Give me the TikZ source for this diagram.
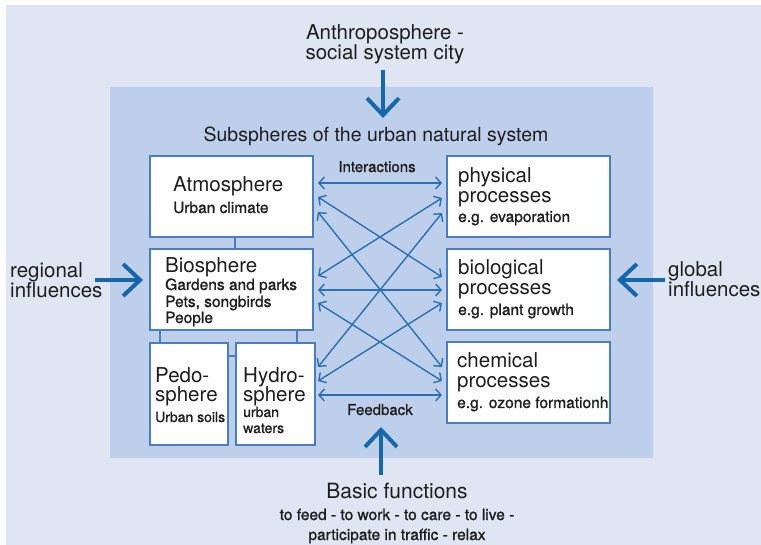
\documentclass[tikz,border=0pt]{standalone}
\usepackage{fontspec}
\setmainfont{TeX Gyre Heros}
\newfontfamily\medfont{TeX Gyre Heros}[FakeBold=1.2]
\usetikzlibrary{arrows.meta}
\definecolor{outerbg}{HTML}{DFE5F3}
\definecolor{innerbg}{HTML}{BDCFEA}
\definecolor{arrowblue}{HTML}{1668AA}
\definecolor{boxblue}{HTML}{4A7DBC}
\definecolor{thinblue}{HTML}{2A70B2}
\definecolor{txt}{HTML}{1E1E1E}
\begin{document}
\begin{tikzpicture}[x=1pt,y=-1pt,
  box/.style={draw=boxblue, line width=1.2pt, fill=white, anchor=north west, inner sep=0pt, outer sep=0pt},
  lbl/.style={text=txt, inner sep=0pt, anchor=base west},
  big/.style={lbl, font=\fontsize{20.5}{24}\selectfont},
  sub/.style={lbl, font=\medfont\fontsize{15.5}{18}\selectfont},
  tiny/.style={lbl, font=\medfont\fontsize{14}{17}\selectfont},
  side/.style={lbl, font=\fontsize{20.5}{24}\selectfont},
  head/.style={text=txt, inner sep=0pt, anchor=base, font=\fontsize{20.5}{24}\selectfont},
  note/.style={text=txt, inner sep=0pt, anchor=base, font=\medfont\fontsize{15.5}{18}\selectfont},
  fatarrow/.style={draw=arrowblue, line width=4pt, -{Straight Barb[length=17pt,width=32pt]}},
  linkline/.style={draw=boxblue, line width=1.4pt},
  interarrow/.style={draw=thinblue, line width=1.4pt, {Straight Barb[length=5.5pt,width=12pt]}-{Straight Barb[length=5.5pt,width=12pt]}}
]
\useasboundingbox (0,0) rectangle (761,545);
\fill[outerbg] (6,5) rectangle (761,545);
\fill[innerbg] (110,87) rectangle (653,458);

% headings
\node[head] (anth1) at (385,40) {Anthroposphere -};
\node[head] (anth2) at (385,60) {social system city};
\node[head, font=\fontsize{19.5}{23}\selectfont] (subs) at (376,142) {Subspheres of the urban natural system};
\node[note, font=\medfont\fontsize{15}{18}\selectfont] (inter) at (377,172) {Interactions};
\node[note, font=\medfont\fontsize{15}{18}\selectfont] (feed) at (380,415) {Feedback};
\node[head, font=\fontsize{21}{25}\selectfont] (basic) at (397,498) {Basic functions};
\node[note] (basic2) at (397,520) {to feed - to work - to care - to live -};
\node[note] (basic3) at (397,540) {participate in traffic - relax};
\node[side] (reg1) at (10,278) {regional};
\node[side] (reg2) at (10,298) {influences};
\node[side] (glob1) at (668,277) {global};
\node[side] (glob2) at (668,297) {influences};

% fat arrows
\coordinate (topA) at (383,70);
\coordinate (topB) at (383,118);
\coordinate (botA) at (381,475);
\coordinate (botB) at (381,427);
\coordinate (lefA) at (95,280);
\coordinate (lefB) at (143,280);
\coordinate (rigA) at (665,280);
\coordinate (rigB) at (617,280);
\draw[fatarrow] (topA) -- (topB);
\draw[fatarrow] (botA) -- (botB);
\draw[fatarrow] (lefA) -- (lefB);
\draw[fatarrow] (rigA) -- (rigB);

% left boxes
\node[box, minimum width=163pt, minimum height=81pt] (atm) at (150,156) {};
\node[box, minimum width=163pt, minimum height=81pt] (bio) at (150,249) {};
\node[box, minimum width=78pt, minimum height=102pt] (pedo) at (150,343) {};
\node[box, minimum width=79pt, minimum height=102pt] (hyd) at (236,343) {};
% right boxes
\node[box, minimum width=163pt, minimum height=81pt] (phys) at (447,156) {};
\node[box, minimum width=163pt, minimum height=81pt] (biol) at (447,249) {};
\node[box, minimum width=163pt, minimum height=81pt] (chem) at (447,342) {};

% links between subspheres
\draw[linkline] ([xshift=3.5pt]atm.south) -- ([xshift=3.5pt]bio.north);
\draw[linkline] ([xshift=10pt]bio.south west) -- ([xshift=10pt]pedo.north west);
\draw[linkline] ([xshift=-16pt]bio.south east) -- ([xshift=-18pt]hyd.north east);
\draw[linkline] ([yshift=-13pt]pedo.north east) -- ([yshift=-13pt]hyd.north west);

% texts in boxes
\node[big] (atmT) at (173,192) {Atmosphere};
\node[sub] (atmS) at (173,213) {Urban climate};
\node[big] (bioT) at (165,273) {Biosphere};
\node[sub] (bioS1) at (165,290) {Gardens and parks};
\node[sub] (bioS2) at (165,307) {Pets, songbirds};
\node[sub] (bioS3) at (165,323) {People};
\node[big] (pedoT1) at (155,383) {Pedo-};
\node[big] (pedoT2) at (155,402) {sphere};
\node[tiny] (pedoS) at (155,422) {Urban soils};
\node[big] (hydT1) at (243,383) {Hydro-};
\node[big] (hydT2) at (243,402) {sphere};
\node[tiny] (hydS1) at (243,417) {urban};
\node[tiny] (hydS2) at (243,433) {waters};
\node[big] (physT1) at (458,183) {physical};
\node[big] (physT2) at (458,203) {processes};
\node[sub] (physS) at (458,222) {e.g. evaporation};
\node[big] (biolT1) at (458,275) {biological};
\node[big] (biolT2) at (458,295) {processes};
\node[sub] (biolS) at (458,315) {e.g. plant growth};
\node[big] (chemT1) at (457,368) {chemical};
\node[big] (chemT2) at (457,388) {processes};
\node[sub] (chemS) at (457,408) {e.g. ozone formationh};

% interaction arrows
\coordinate (l1) at (318,183);
\coordinate (l2) at (318,197);
\coordinate (l3) at (318,212);
\coordinate (l4) at (318,276);
\coordinate (l5) at (318,290);
\coordinate (l6) at (318,303);
\coordinate (l7) at (318,367);
\coordinate (l8) at (318,381);
\coordinate (l9) at (318,395);
\coordinate (r1) at (442,183);
\coordinate (r2) at (442,198);
\coordinate (r3) at (442,213);
\coordinate (r4) at (442,277);
\coordinate (r5) at (442,290);
\coordinate (r6) at (442,303);
\coordinate (r7) at (442,367);
\coordinate (r8) at (442,381);
\coordinate (r9) at (442,395);
\draw[interarrow] (l1) -- (r1);
\draw[interarrow] (l2) -- (r4);
\draw[interarrow] (l3) -- (r7);
\draw[interarrow] (l4) -- (r2);
\draw[interarrow] (l5) -- (r5);
\draw[interarrow] (l6) -- (r8);
\draw[interarrow] (l7) -- (r3);
\draw[interarrow] (l8) -- (r6);
\draw[interarrow] (l9) -- (r9);
\end{tikzpicture}
\end{document}
